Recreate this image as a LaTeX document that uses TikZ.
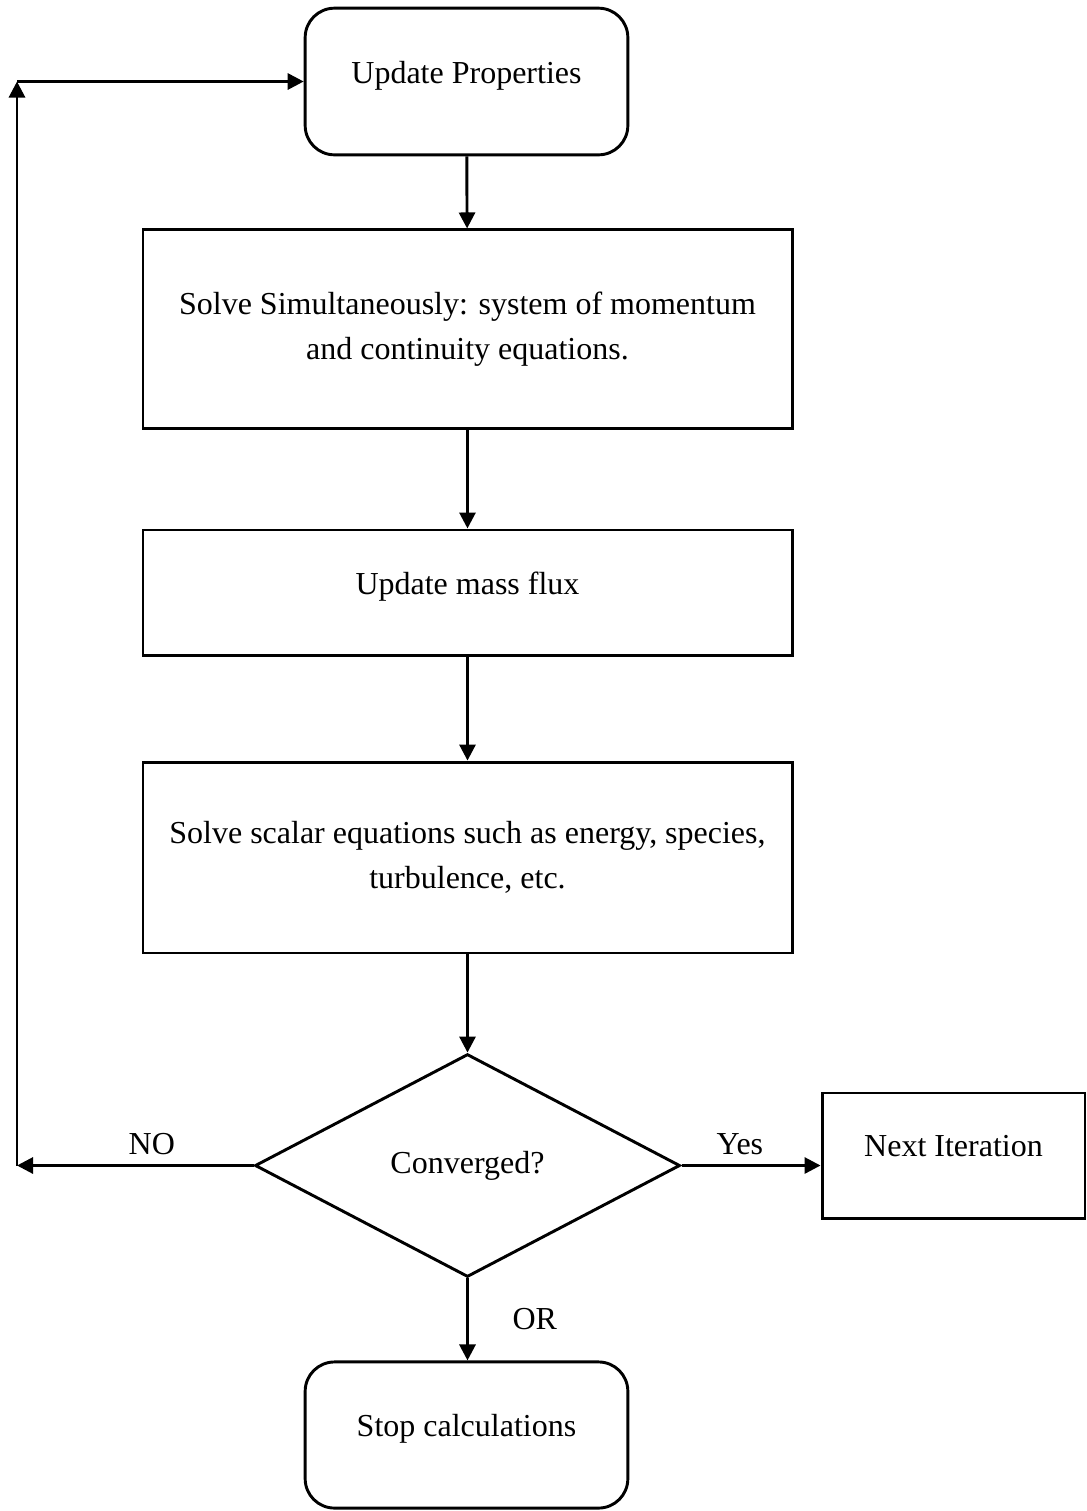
\documentclass[tikz,border=0pt]{standalone}
\usepackage{fontspec}
\setmainfont{Liberation Serif}
\usetikzlibrary{positioning, arrows.meta, shapes.geometric}

\begin{document}
\begin{tikzpicture}[x=0.375pt, y=-0.375pt,
  box/.style={draw, line width=1.1pt, align=center, inner sep=0pt, font=\fontsize{12}{17}\selectfont},
  rbox/.style={box, rounded corners=11pt},
  lifted/.style={text depth=7pt},
  dec/.style={box, diamond},
  lbl/.style={font=\fontsize{12}{14}\selectfont},
  arr/.style={-{Triangle[length=6pt,width=6pt]}, line width=1.1pt}]
  \useasboundingbox (0,0) rectangle (1087,1511);

  % boxes
  \node[rbox, lifted, minimum width=121pt, minimum height=55pt] (upd) at (466.5,81.5) {Update Properties};
  \node[box, minimum width=243.4pt, minimum height=74.3pt] (solve) at (467.5,329) {Solve Simultaneously: system of momentum\\and continuity equations.};
  \node[box, lifted, minimum width=243.4pt, minimum height=46.9pt] (flux) at (467.5,592.5) {Update mass flux};
  \node[box, minimum width=243.4pt, minimum height=71.6pt] (scal) at (467.5,857.5) {Solve scalar equations such as energy, species,\\turbulence, etc.};
  \node[dec, minimum width=159.4pt, minimum height=83.6pt] (conv) at (467.5,1165.5) {Converged?};
  \node[box, lifted, minimum width=98.6pt, minimum height=46.9pt] (next) at (953.5,1155.5) {Next Iteration};
  \node[rbox, lifted, minimum width=121pt, minimum height=54.8pt] (stop) at (466.5,1435) {Stop calculations};

  \coordinate (noend) at (17,1165.5);
  \coordinate (corner) at (17,81.5);

  % connectors
  \draw[arr] (upd) -- (solve);
  \draw[arr] (solve) -- (flux);
  \draw[arr] (flux) -- (scal);
  \draw[arr] (scal) -- (conv);
  \draw[arr] (conv.east) -- node[lbl, above, pos=0.42] (yes) {Yes} (next.west |- conv.east);
  \draw[arr] (conv.west) -- node[lbl, above, pos=0.43] (no) {NO} (noend);
  \draw[arr] (noend) -- (corner);
  \draw[arr] (corner) -- (upd.west |- corner);
  \draw[arr] (conv.south) -- node[lbl, right=13pt] (or) {OR} (stop.north -| conv.south);
\end{tikzpicture}
\end{document}
